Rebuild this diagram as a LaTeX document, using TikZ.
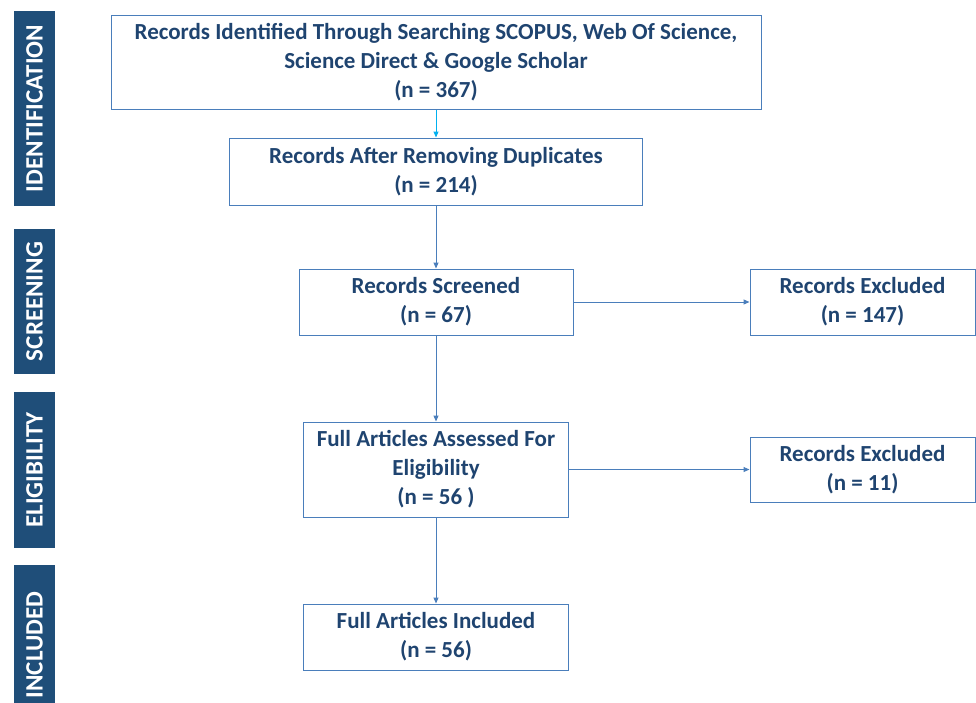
\documentclass[tikz,border=0pt]{standalone}
\usepackage{fontspec}
\setmainfont{Carlito}
\usetikzlibrary{arrows.meta}
\definecolor{barblue}{HTML}{1F4E79}
\definecolor{textblue}{HTML}{1F4470}
\definecolor{lineblue}{HTML}{4A7EBB}
\definecolor{skyblue}{HTML}{00B0F0}
\tikzset{
  box/.style={draw=lineblue, line width=1pt, text=textblue, align=center, inner sep=0pt,
    font=\fontsize{23}{29}\selectfont\bfseries},
  stagebar/.style={fill=barblue, text=white, rotate=90, inner sep=0pt,
    minimum height=41pt, font=\fontsize{25}{28}\selectfont\bfseries},
  arr/.style={-{Triangle[length=6pt,width=5pt]}, lineblue, line width=1pt}
}

\begin{document}
\begin{tikzpicture}[x=1pt,y=-1pt]
\useasboundingbox (0,0) rectangle (976,702);
% stage bars
\node[stagebar, minimum width=195pt] (identbar) at (34.5,108.5) {IDENTIFICATION};
\node[stagebar, minimum width=145pt] (screenbar) at (34.5,301.5) {SCREENING};
\node[stagebar, minimum width=156pt] (eligbar) at (34.5,470) {ELIGIBILITY};
\node[stagebar, minimum width=160pt] (inclbar) at (34.5,645) {INCLUDED};
% boxes
\node[box, minimum width=650pt, minimum height=94pt] (found) at (436,62)
  {Records Identified Through Searching SCOPUS, Web Of Science,\\ Science Direct \& Google Scholar\\ (n = 367)};
\node[box, minimum width=413pt, minimum height=67pt] (dedup) at (436,171.5)
  {Records After Removing Duplicates\\ (n = 214)};
\node[box, minimum width=274pt, minimum height=66pt] (screened) at (436,302)
  {Records Screened\\ (n = 67)};
\node[box, minimum width=225pt, minimum height=66pt] (exclA) at (862.5,302)
  {Records Excluded\\ (n = 147)};
\node[box, minimum width=265pt, minimum height=95pt] (assessed) at (436,469.5)
  {Full Articles Assessed For\\ Eligibility\\ (n = 56 )};
\node[box, minimum width=225pt, minimum height=65pt] (exclB) at (862.5,469.5)
  {Records Excluded\\ (n = 11)};
\node[box, minimum width=265pt, minimum height=66pt] (included) at (436,637)
  {Full Articles Included\\ (n = 56)};
% arrows
\draw[arr, skyblue] (found) -- (dedup);
\draw[arr] (dedup) -- (screened);
\draw[arr] (screened) -- (exclA);
\draw[arr] (screened) -- (assessed);
\draw[arr] (assessed) -- (exclB);
\draw[arr] (assessed) -- (included);
\end{tikzpicture}
\end{document}
